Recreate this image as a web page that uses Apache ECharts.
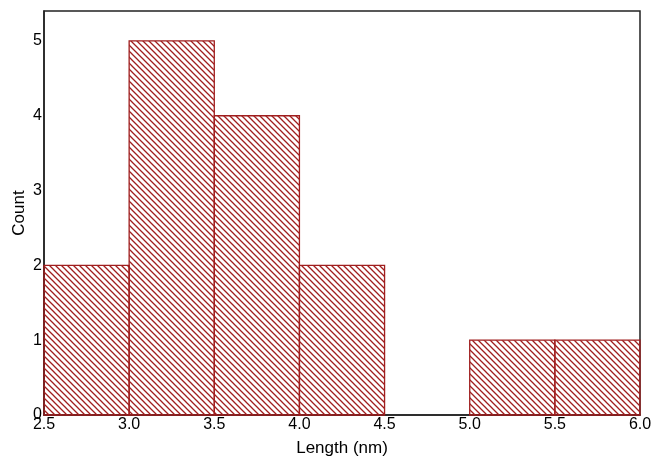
<!DOCTYPE html>
<html>
<head>
<meta charset="utf-8">
<script src="https://cdn.jsdelivr.net/npm/echarts@6/dist/echarts.min.js"></script>
<style>
  html, body { margin: 0; padding: 0; background: #fff; }
  #main { width: 653px; height: 460px; }
</style>
</head>
<body>
<div id="main"></div>
<script>
// histogram bins (nm) and counts
var binStart = [2.5, 3.0, 3.5, 4.0, 4.5, 5.0, 5.5];
var binEnd   = [3.0, 3.5, 4.0, 4.5, 5.0, 5.5, 6.0];
var counts   = [2, 5, 4, 2, 0, 1, 1];

var red = '#a01e1e';

// diagonal hatch tile
function hatch() {
  var c = document.createElement('canvas');
  c.width = 6; c.height = 6;
  var ctx = c.getContext('2d');
  ctx.strokeStyle = red;
  ctx.lineWidth = 1.3;
  ctx.beginPath();
  ctx.moveTo(-1, -1); ctx.lineTo(7, 7);
  ctx.moveTo(-1, 5); ctx.lineTo(1, 7);
  ctx.moveTo(5, -1); ctx.lineTo(7, 1);
  ctx.stroke();
  return c;
}
var pattern = { image: hatch(), repeat: 'repeat' };

var data = binStart.map(function (s, i) { return [s, binEnd[i], counts[i]]; });

var chart = echarts.init(document.getElementById('main'));
chart.setOption({
  animation: false,
  grid: {
    left: 44, right: 13, top: 11, bottom: 45,
    outerBoundsMode: 'none', containLabel: false,
    show: true, borderColor: '#222', borderWidth: 1.5
  },
  xAxis: {
    type: 'value', min: 2.5, max: 6.0, interval: 0.5,
    name: 'Length (nm)', nameLocation: 'middle', nameGap: 25,
    nameMoveOverlap: false,
    nameTextStyle: { fontFamily: 'Liberation Sans', fontSize: 17, color: '#000' },
    axisLine: { show: true, lineStyle: { color: '#222', width: 1.5 } },
    axisTick: { show: false },
    splitLine: { show: false },
    axisLabel: {
      fontFamily: 'Liberation Sans', fontSize: 16, color: '#000', margin: 2,
      formatter: function (v) { return v.toFixed(1); }
    }
  },
  yAxis: {
    type: 'value', min: 0, max: 5.4, interval: 1,
    name: 'Count', nameLocation: 'middle', nameGap: 16,
    nameMoveOverlap: false,
    nameTextStyle: { fontFamily: 'Liberation Sans', fontSize: 17, color: '#000' },
    axisLine: { show: true, lineStyle: { color: '#222', width: 1.5 } },
    axisTick: { show: false },
    splitLine: { show: false },
    axisLabel: {
      fontFamily: 'Liberation Sans', fontSize: 16, color: '#000', margin: 2,
      formatter: function (v) { return Number.isInteger(v) ? String(v) : ''; }
    }
  },
  series: [{
    type: 'custom',
    data: data,
    encode: { x: [0, 1], y: 2 },
    renderItem: function (params, api) {
      var h = api.value(2);
      if (!h) return null;
      var p0 = api.coord([api.value(0), h]);
      var p1 = api.coord([api.value(1), 0]);
      return {
        type: 'rect',
        shape: { x: p0[0], y: p0[1], width: p1[0] - p0[0], height: p1[1] - p0[1] },
        style: { fill: pattern, stroke: red, lineWidth: 1.3 }
      };
    }
  }]
});
</script>
</body>
</html>
